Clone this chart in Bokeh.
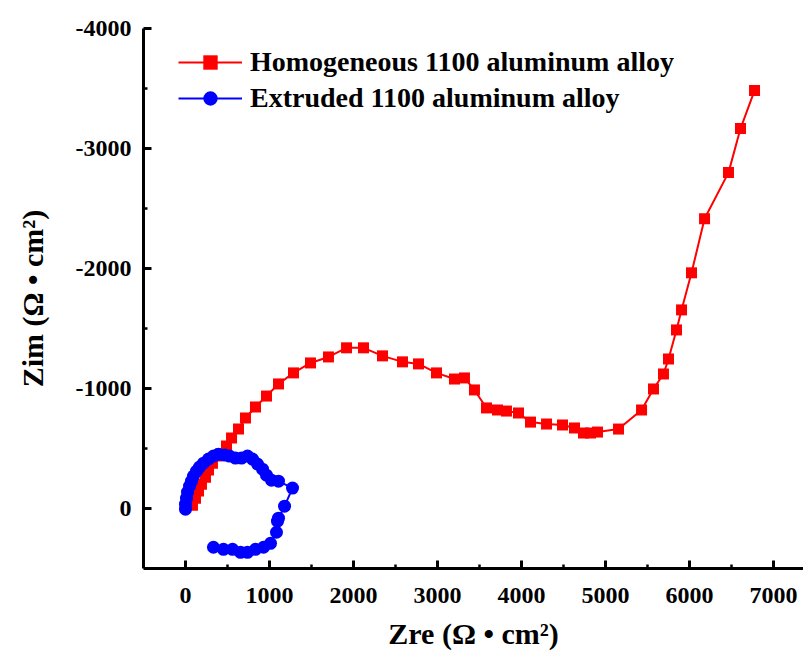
from bokeh.plotting import figure
from bokeh.models import Range1d, FixedTicker, Legend, LegendItem
from bokeh.embed import file_html
from bokeh.resources import INLINE

# ---- data ----
red_label = "Homogeneous 1100 aluminum alloy"
red_zre = [83, 119, 155, 190, 238, 274, 321, 369, 417, 488, 548, 631, 714, 833, 964,
           1107, 1286, 1488, 1702, 1917, 2119, 2345, 2583, 2774, 2988, 3202, 3321,
           3440, 3583, 3714, 3821, 3964, 4107, 4298, 4488, 4631, 4738, 4821, 4905,
           5155, 5429, 5571, 5690, 5750, 5845, 5905, 6024, 6179, 6464, 6607, 6774]
red_zim = [-28, -86, -145, -203, -261, -320, -378, -437, -455, -520, -587, -662, -754,
           -846, -937, -1038, -1130, -1213, -1263, -1339, -1339, -1272, -1222, -1205,
           -1130, -1079, -1088, -988, -838, -821, -812, -796, -720, -704, -696, -671,
           -629, -629, -637, -662, -821, -996, -1121, -1246, -1488, -1655, -1964,
           -2415, -2799, -3166, -3483]

blue_label = "Extruded 1100 aluminum alloy"
blue_zre = [0, 0, 12, 24, 48, 71, 95, 131, 167, 214, 274, 333, 393, 464, 524, 595, 667,
            738, 798, 857, 917, 964, 1024, 1107, 1274, 1179, 1107, 1095, 1083, 1012,
            929, 833, 738, 655, 560, 452, 333]
blue_zim = [6, -36, -86, -136, -186, -228, -270, -311, -345, -378, -412, -437, -453,
            -445, -437, -420, -420, -437, -412, -370, -328, -278, -236, -228, -170,
            -19, 81, 106, 198, 290, 323, 340, 365, 365, 340, 340, 323]

x_major = [0, 1000, 2000, 3000, 4000, 5000, 6000, 7000]
x_minor = [500, 1500, 2500, 3500, 4500, 5500, 6500]
y_major = [-4000, -3000, -2000, -1000, 0]
y_minor = [-3500, -2500, -1500, -500]
y_tick_labels = ["-4000", "-3000", "-2000", "-1000", "0"]

x_title = "Zre (\u03a9 \u2022 cm\u00b2)"
y_title = "Zim (\u03a9 \u2022 cm\u00b2)"

FONT = "Liberation Serif"

p = figure(width=803, height=653, output_backend="svg", toolbar_location=None,
           x_range=Range1d(-500, 7357), y_range=Range1d(500, -4000),
           min_border_left=143, min_border_right=0, min_border_top=28,
           min_border_bottom=85)
p.outline_line_color = None
p.xgrid.visible = False
p.ygrid.visible = False

r_line = p.line(red_zre, red_zim, line_color="#FF0000", line_width=2)
r_pts = p.scatter(red_zre, red_zim, marker="square", size=11,
                  fill_color="#FF0000", line_color="#FF0000", line_width=0)
b_line = p.line(blue_zre, blue_zim, line_color="#0000FF", line_width=2)
b_pts = p.scatter(blue_zre, blue_zim, marker="circle", size=13,
                  fill_color="#0000FF", line_color="#0000FF", line_width=0)

for ax, major, minor, title in ((p.xaxis[0], x_major, x_minor, x_title),
                                (p.yaxis[0], y_major, y_minor, y_title)):
    ax.ticker = FixedTicker(ticks=major, minor_ticks=minor)
    ax.axis_line_width = 3
    ax.axis_line_color = "black"
    ax.major_tick_line_width = 3
    ax.minor_tick_line_width = 2.5
    ax.major_tick_in = 8
    ax.major_tick_out = 0
    ax.minor_tick_in = 4
    ax.minor_tick_out = 0
    ax.major_label_text_font = FONT
    ax.major_label_text_font_style = "bold"
    ax.major_label_text_font_size = "24px"
    ax.major_label_text_color = "black"
    ax.axis_label = title
    ax.axis_label_text_font = FONT
    ax.axis_label_text_font_style = "bold"
    ax.axis_label_text_font_size = "30px"
    ax.axis_label_text_color = "black"

p.yaxis[0].major_label_overrides = {v: s for v, s in zip(y_major, y_tick_labels)}

p.xaxis[0].major_label_standoff = 19
p.xaxis[0].axis_label_standoff = 11
p.yaxis[0].major_label_standoff = 12
p.yaxis[0].axis_label_standoff = 24

legend = Legend(items=[LegendItem(label=red_label, renderers=[r_line, r_pts]),
                       LegendItem(label=blue_label, renderers=[b_line, b_pts])],
                location=(35, 452), padding=0, margin=0, spacing=0,
                glyph_width=64, glyph_height=36, label_height=36,
                label_standoff=8, border_line_color=None,
                background_fill_alpha=0,
                label_text_font=FONT, label_text_font_style="bold",
                label_text_font_size="28px", label_text_color="black")
p.add_layout(legend, "center")

open("out.html", "w").write(file_html(p, INLINE))
